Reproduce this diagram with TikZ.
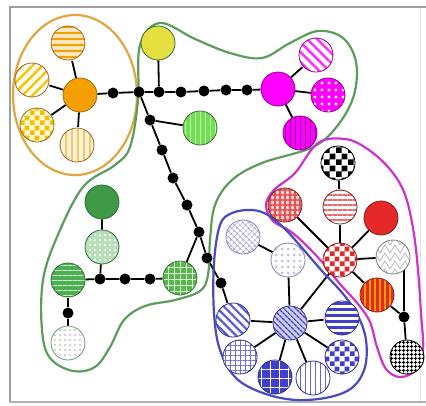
\documentclass[tikz,border=0pt]{standalone}
\usetikzlibrary{patterns,patterns.meta}
\pgfdeclarelayer{bg}
\pgfsetlayers{bg,main}
\pgfdeclarepatternformonly{chkA}{\pgfpointorigin}{\pgfqpoint{10pt}{10pt}}{\pgfqpoint{10pt}{10pt}}{%
 \pgfpathrectangle{\pgfpointorigin}{\pgfqpoint{5pt}{5pt}}%
 \pgfpathrectangle{\pgfqpoint{5pt}{5pt}}{\pgfqpoint{5pt}{5pt}}%
 \pgfusepath{fill}}
\pgfdeclarepatternformonly{chkB}{\pgfpointorigin}{\pgfqpoint{12pt}{12pt}}{\pgfqpoint{12pt}{12pt}}{%
 \pgfpathrectangle{\pgfpointorigin}{\pgfqpoint{6pt}{6pt}}%
 \pgfpathrectangle{\pgfqpoint{6pt}{6pt}}{\pgfqpoint{6pt}{6pt}}%
 \pgfusepath{fill}}
\pgfdeclarepatternformonly{zigA}{\pgfqpoint{-1pt}{-1pt}}{\pgfqpoint{11pt}{9pt}}{\pgfqpoint{10pt}{8pt}}{%
 \pgfsetlinewidth{0.7pt}%
 \pgfpathmoveto{\pgfqpoint{0pt}{0pt}}\pgfpathlineto{\pgfqpoint{5pt}{8pt}}\pgfpathlineto{\pgfqpoint{10pt}{0pt}}%
 \pgfusepath{stroke}}
\definecolor{orC}{HTML}{F5A000}
\definecolor{orD}{HTML}{9A6A20}
\definecolor{orEll}{HTML}{E2A640}
\definecolor{ygC}{HTML}{E5E040}
\definecolor{grCurve}{HTML}{5C9C5C}
\definecolor{grD}{HTML}{2F6F35}
\definecolor{dgC}{HTML}{3E9A46}
\definecolor{gC}{HTML}{4CAF50}
\definecolor{lgC}{HTML}{70E050}
\definecolor{mgC}{HTML}{FF00FF}
\definecolor{mgD}{HTML}{900090}
\definecolor{mgCurve}{HTML}{CC33CC}
\definecolor{rdC}{HTML}{E52828}
\definecolor{rdD}{HTML}{802020}
\definecolor{blC}{HTML}{4040CC}
\definecolor{blD}{HTML}{303080}
\definecolor{blCurve}{HTML}{4A4AC0}
\tikzset{
 nd/.style={circle, minimum size=34pt, inner sep=0pt, line width=0.8pt},
 pn/.style n args={3}{nd, draw=#1, preaction={fill=#2}, pattern color=#3},
 dotn/.style={circle, fill=black, minimum size=11pt, inner sep=0pt},
 edge/.style={draw=black, line width=1.8pt},
 encl/.style={line width=2.2pt},
}
\begin{document}
\begin{tikzpicture}[x=1pt,y=-1pt]
\useasboundingbox (0,0) rectangle (426,405);

% ---------- orange cluster
\node[nd, draw=orD, fill=orC] (oc) at (80,95) {};
\node[pn={orD}{orC!25}{orC}, pattern={Lines[angle=0,distance=6pt,line width=2.5pt]}] (o1) at (68,43) {};
\node[pn={orD}{white}{orC!60!yellow}, pattern={Lines[angle=45,distance=7pt,line width=2.5pt]}] (o2) at (32,80) {};
\node[pn={orD}{yellow!15}{orC!70!yellow}, pattern=chkA] (o3) at (37,125) {};
\node[pn={orD}{orC!15}{orC!60}, pattern={Lines[angle=90,distance=6pt,line width=2.5pt]}] (o4) at (77,145) {};

% ---------- chain top
\node[dotn] (d1) at (113,93) {};
\node[dotn] (d2) at (139,92) {};
\node[dotn] (d3) at (159,92) {};
\node[dotn] (d4) at (181,92) {};
\node[dotn] (d5) at (204,91) {};
\node[dotn] (d6) at (226,90) {};
\node[dotn] (d7) at (247,90) {};
\node[nd, draw=grD, fill=ygC] (yg) at (158,43) {};

% diagonal chain
\node[dotn] (e1) at (150,120) {};
\node[dotn] (e2) at (162,150) {};
\node[dotn] (e3) at (173,178) {};
\node[dotn] (e4) at (187,205) {};
\node[dotn] (e5) at (199,232) {};
\node[dotn] (e6) at (207,258) {};
\node[dotn] (e7) at (221,283) {};
\node[pn={grD}{lgC}{lgC!40!white}, pattern={Lines[angle=90,distance=5pt,line width=1pt]}] (lg) at (200,128) {};

% ---------- green cluster
\node[nd, draw=grD, fill=dgC] (dg) at (102,202) {};
\node[pn={grD}{gC!40}{white}, pattern={Dots[distance=5pt,radius=1.2pt]}] (gd) at (102,247) {};
\node[pn={grD}{gC}{gC!25!white}, pattern={Lines[angle=0,distance=5pt,line width=1pt]}] (gs) at (68,280) {};
\node[pn={grD}{gC!90!lime}{gC!20!white}, pattern={Hatch[distance=6pt,line width=1pt]}] (gg) at (180,278) {};
\node[pn={grD!70}{white}{gray!70}, pattern={Dots[distance=5pt,radius=0.9pt]}] (gw) at (68,343) {};
\node[dotn] (f1) at (100,279) {};
\node[dotn] (f2) at (125,279) {};
\node[dotn] (f3) at (150,279) {};
\node[dotn] (f4) at (68,313) {};

% ---------- magenta cluster
\node[nd, draw=mgD, fill=mgC] (mc) at (278,89) {};
\node[pn={mgD}{white}{mgC!80}, pattern={Lines[angle=-45,distance=7pt,line width=2.5pt]}] (m1) at (316,55) {};
\node[pn={mgD}{mgC}{white}, pattern={Dots[distance=7pt,radius=1.6pt]}] (m2) at (328,95) {};
\node[pn={mgD}{mgC}{mgD}, pattern={Lines[angle=90,distance=5pt,line width=1pt]}] (m3) at (300,133) {};

% ---------- red cluster
\node[pn={black}{white}{black}, pattern=chkB] (kc) at (338,163) {};
\node[pn={rdD}{rdC!20}{rdC!80}, pattern={Hatch[distance=5pt,line width=1.2pt]}] (rg) at (285,205) {};
\node[pn={rdD}{white}{rdC!70}, pattern={Lines[angle=0,distance=5pt,line width=2.2pt]}] (rs) at (340,207) {};
\node[nd, draw=rdD, fill=rdC] (rr) at (381,218) {};
\node[pn={rdD}{white}{rdC}, pattern=chkA] (rc) at (340,260) {};
\node[pn={gray}{white}{gray!60}, pattern=zigA] (rz) at (393,257) {};
\node[pn={rdD}{rdC}{orC}, pattern={Lines[angle=90,distance=5pt,line width=1.5pt]}] (rv) at (377,295) {};
\node[dotn] (rdot) at (404,317) {};
\node[pn={black}{white}{black}, pattern={Hatch[distance=4pt,line width=1pt]}] (kg) at (407,357) {};

% ---------- blue cluster
\node[pn={blD!60}{white}{blC!50}, pattern={Hatch[angle=45,distance=4pt,line width=0.6pt]}] (b1) at (243,237) {};
\node[pn={blD!60}{white}{blC!35}, pattern={Dots[distance=6pt,radius=1.5pt]}] (b2) at (288,260) {};
\node[pn={blD}{blC!25}{blC}, pattern={Lines[angle=-45,distance=4pt,line width=1.4pt]}] (bc) at (290,323) {};
\node[pn={blD}{white}{blC!85}, pattern={Lines[angle=-45,distance=6pt,line width=2.2pt]}] (bl) at (233,320) {};
\node[pn={blD}{white}{blC}, pattern={Lines[angle=0,distance=6pt,line width=3pt]}] (br) at (342,318) {};
\node[pn={blD}{white}{blC!75}, pattern={Hatch[distance=5pt,line width=1pt]}] (bgr) at (240,357) {};
\node[pn={blD}{white}{blC}, pattern=chkA] (bch) at (342,357) {};
\node[pn={blD}{blC}{white}, pattern={Hatch[distance=9pt,line width=1pt]}] (bs) at (275,377) {};
\node[pn={blD}{white}{blC!80}, pattern={Lines[angle=90,distance=5pt,line width=0.9pt]}] (bv) at (313,378) {};

\begin{pgfonlayer}{bg}
\fill[white] (0,0) rectangle (426,405);
% frame
\draw[gray!20, line width=1pt] (420,7) -- (420,402);
\draw[gray!60, line width=1.2pt] (10,402) -- (426,402);
\draw[gray!75, line width=1.6pt] (10,402) -- (10,7) -- (426,7);
% edges
\draw[edge] (oc) -- (o1);
\draw[edge] (oc) -- (o2);
\draw[edge] (oc) -- (o3);
\draw[edge] (oc) -- (o4);
\draw[edge] (oc) -- (d1) -- (d2) -- (d3) -- (d4) -- (d5) -- (d6) -- (d7) -- (mc);
\draw[edge] (yg) -- (d3);
\draw[edge] (d2) -- (e1) -- (e2) -- (e3) -- (e4) -- (e5) -- (e6) -- (e7) -- (bl);
\draw[edge] (e1) -- (lg);
\draw[edge] (e5) -- (gg);
\draw[edge] (dg) -- (gd) -- (f1);
\draw[edge] (gs) -- (f1) -- (f2) -- (f3) -- (gg);
\draw[edge] (gs) -- (f4) -- (gw);
\draw[edge] (mc) -- (m1);
\draw[edge] (mc) -- (m2);
\draw[edge] (mc) -- (m3);
\draw[edge] (kc) -- (rs);
\draw[edge] (rc) -- (rg);
\draw[edge] (rc) -- (rs);
\draw[edge] (rc) -- (rr);
\draw[edge] (rc) -- (rz);
\draw[edge] (rc) -- (rv);
\draw[edge] (rv) -- (rdot) -- (kg);
\draw[edge] (rdot) -- (rdot |- rz);
\draw[edge] (b1) -- (b2) -- (bc);
\draw[edge] (bc) -- (bl);
\draw[edge] (bc) -- (br);
\draw[edge] (bc) -- (bgr);
\draw[edge] (bc) -- (bch);
\draw[edge] (bc) -- (bs);
\draw[edge] (bc) -- (bv);
\draw[edge] (bc) -- (rc);
% enclosures
\draw[encl, orEll] (75,95) ellipse[x radius=62, y radius=80];
\draw[encl, grCurve] plot[smooth cycle, tension=0.6] coordinates {
 (160,23) (195,39) (230,53) (262,58) (290,43) (318,31) (343,38) (356,62)
 (354,95) (338,125) (313,147) (262,163) (232,180) (215,205) (210,240)
 (208,275) (200,291) (175,300) (145,306) (124,320) (110,347) (95,367)
 (73,371) (50,358) (42,330) (43,280) (57,237) (83,187) (115,165) (130,147)
 (138,100) (140,45)};
\draw[encl, mgCurve] plot[smooth cycle, tension=0.6] coordinates {
 (318,143) (345,139) (366,148) (388,167) (404,192) (413,228) (418,270)
 (421,313) (423,350) (416,370) (400,377) (386,369) (377,347) (370,322)
 (358,304) (340,284) (322,262) (306,245) (290,231) (273,221) (266,205)
 (274,190) (295,173)};
\draw[encl, blCurve] plot[smooth cycle, tension=0.6] coordinates {
 (220,225) (232,213) (252,210) (268,215) (285,229) (303,249) (322,271)
 (344,295) (358,316) (366,340) (365,367) (353,387) (330,397) (296,400)
 (263,393) (236,378) (220,350) (214,313) (214,263)};
\end{pgfonlayer}
\end{tikzpicture}
\end{document}
